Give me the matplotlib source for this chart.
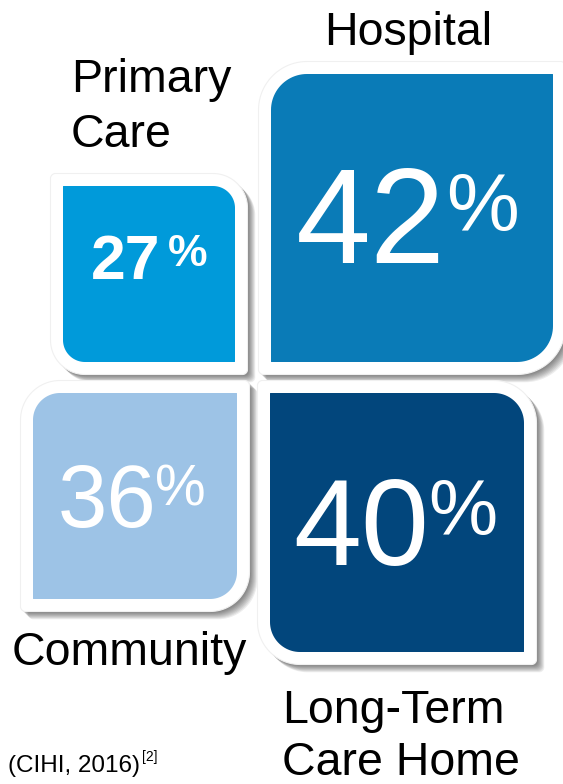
import numpy as np
import matplotlib.pyplot as plt
from matplotlib.path import Path
from matplotlib.patches import PathPatch

plt.rcParams['font.family'] = ['Liberation Sans', 'DejaVu Sans']

# data
categories = ['Primary\nCare', 'Hospital', 'Community', 'Long-Term\nCare Home']
values = [27, 42, 36, 40]
colors = ['#009ADA', '#0A7BB7', '#9DC3E6', '#02467C']
source = '(CIHI, 2016)'
source_ref = '[2]'

# layout in pixels (y down): inner box, rounded corners, radius
boxes = [(63, 186, 235, 362), (271, 74, 553, 362), (33, 393, 237, 599), (270, 393, 524, 652)]
rounded = [('tr', 'bl'), ('tl', 'br'), ('tl', 'br'), ('tr', 'bl')]
radius = [22, 36, 27, 30]
# number: right x, baseline, size ; percent: left x, baseline, size
num_pos = [(160, 279, 45), (446, 263, 97), (156, 527, 64), (429, 565, 88)]
pct_pos = [(168, 266, 32), (446, 231, 59), (155, 505, 41), (428, 535, 56)]
bold = [True, False, False, False]
# label lines: x, first baseline, line step, ha
label_pos = [(71, 92, 55, 'left'), (408, 45, 0, 'center'), (12, 665, 0, 'left'), (282, 723, 52, 'left')]
border = 12.5


def tile_path(x0, y0, x1, y1, corners, r, rsmall=3):
    rr = {k: (r if k in corners else rsmall) for k in ['tl', 'tr', 'br', 'bl']}
    centers = {'tr': (x1 - rr['tr'], y0 + rr['tr'], -90),
               'br': (x1 - rr['br'], y1 - rr['br'], 0),
               'bl': (x0 + rr['bl'], y1 - rr['bl'], 90),
               'tl': (x0 + rr['tl'], y0 + rr['tl'], 180)}
    pts = []
    for k in ['tr', 'br', 'bl', 'tl']:
        cx, cy, a0 = centers[k]
        t = np.radians(np.linspace(a0, a0 + 90, 24))
        pts += list(zip(cx + rr[k] * np.cos(t), cy + rr[k] * np.sin(t)))
    pts.append(pts[0])
    codes = [Path.MOVETO] + [Path.LINETO] * (len(pts) - 2) + [Path.CLOSEPOLY]
    return Path(pts, codes)


fig = plt.figure(figsize=(5.63, 7.84), dpi=100)
ax = fig.add_axes([0, 0, 1, 1])
ax.set_xlim(0, 563)
ax.set_ylim(784, 0)
ax.axis('off')

for i in range(len(values)):
    x0, y0, x1, y1 = boxes[i]
    b = border
    # soft shadow
    for k in range(8):
        off = 1.5 + k * 0.9
        sp = tile_path(x0 - b + off, y0 - b + off, x1 + b + off, y1 + b + off,
                       rounded[i], radius[i] + b, 5)
        ax.add_patch(PathPatch(sp, facecolor='#000000', edgecolor='none', alpha=0.07, zorder=1))
    outer = tile_path(x0 - b, y0 - b, x1 + b, y1 + b, rounded[i], radius[i] + b, 5)
    ax.add_patch(PathPatch(outer, facecolor='white', edgecolor='#f0f0f0', lw=0.8, zorder=2))
    inner = tile_path(x0, y0, x1, y1, rounded[i], radius[i], 0.5)
    ax.add_patch(PathPatch(inner, facecolor=colors[i], edgecolor='none', zorder=3))

    w = 'bold' if bold[i] else 'normal'
    nx, ny, ns = num_pos[i]
    ax.text(nx, ny, str(values[i]), color='white', fontsize=ns, fontweight=w,
            ha='right', va='baseline', zorder=4)
    px, py, ps = pct_pos[i]
    ax.text(px, py, '%', color='white', fontsize=ps, fontweight=w,
            ha='left', va='baseline', zorder=4)

    lx, ly, step, ha = label_pos[i]
    for j, line in enumerate(categories[i].split('\n')):
        ax.text(lx, ly + j * step, line, color='black', fontsize=33.5,
                ha=ha, va='baseline', zorder=4)

ax.text(8, 772, source, fontsize=17.5, ha='left', va='baseline', color='black')
ax.text(142, 761, source_ref, fontsize=10, ha='left', va='baseline', color='black')

fig.savefig('out.png', dpi=100)
